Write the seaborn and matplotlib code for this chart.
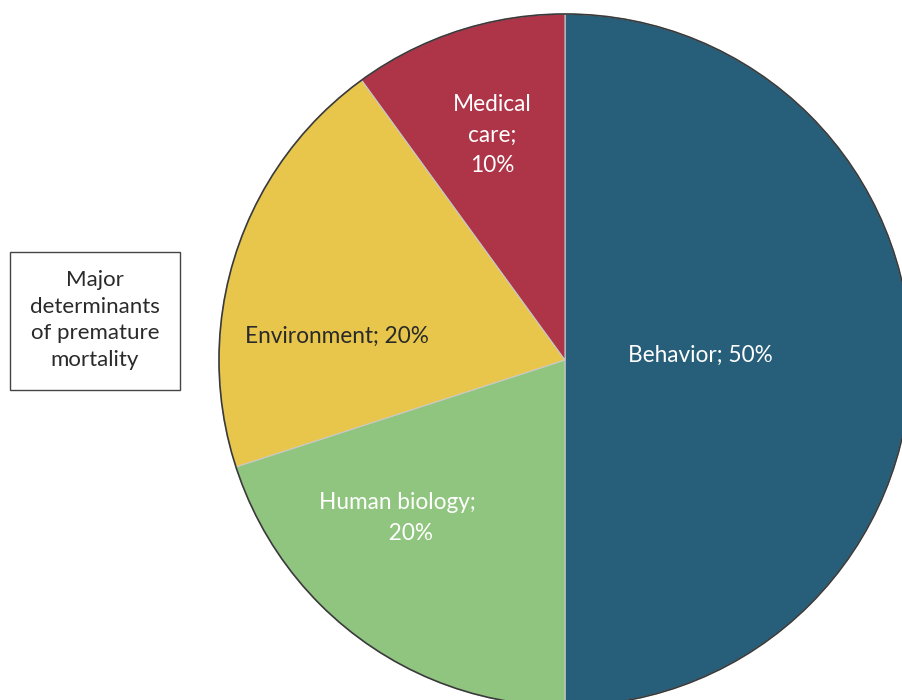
import matplotlib
matplotlib.use("Agg")
import matplotlib.pyplot as plt
from matplotlib.patches import Circle, Rectangle
import seaborn as sns

# Determinants of premature mortality (share, %)
categories = ["Behavior", "Human biology", "Environment", "Medical care"]
shares = [50, 20, 20, 10]
label_texts = ["Behavior; 50%", "Human biology;\n     20%", "Environment; 20%", "Medical\ncare;\n10%"]
label_colors = ["white", "white", "#2a2a2a", "white"]
slice_colors = ["#275E79", "#8FC57E", "#E8C64B", "#AE3548"]
title_text = "Major\ndeterminants\nof premature\nmortality"

sns.set_theme(style="white")
plt.rcParams["font.family"] = ["Lato", "DejaVu Sans"]

W, H = 902, 700
fig = plt.figure(figsize=(W / 100, H / 100), dpi=100)
ax = fig.add_axes([0, 0, 1, 1])

cx, cy, r = 565, H - 360, 346
wedges, _ = ax.pie(
    shares,
    colors=slice_colors,
    startangle=90,
    counterclock=False,
    center=(cx, cy),
    radius=r,
    wedgeprops=dict(edgecolor="#c9c9c9", linewidth=0.8),
    frame=True,
)
ax.set_xlim(0, W)
ax.set_ylim(0, H)
ax.set_aspect("equal")
ax.axis("off")
ax.add_patch(Circle((cx, cy), r, fill=False, edgecolor="#3a3a3a", linewidth=1.2))

# label anchor points (pixel space, y measured from top)
label_pos = [(700, 355), (397, 518), (337, 336), (492, 135)]
for txt, col, (x, y) in zip(label_texts, label_colors, label_pos):
    ax.text(x, H - y, txt, color=col, ha="center", va="center",
            fontsize=16.3, linespacing=1.58)

ax.add_patch(Rectangle((10, H - 390), 170, 138, fill=False,
                       edgecolor="#444444", linewidth=1.0))
ax.text(95, H - 320, title_text, ha="center", va="center", fontsize=16,
        color="#2a2a2a", linespacing=1.4)

fig.savefig("out.png", dpi=100)
